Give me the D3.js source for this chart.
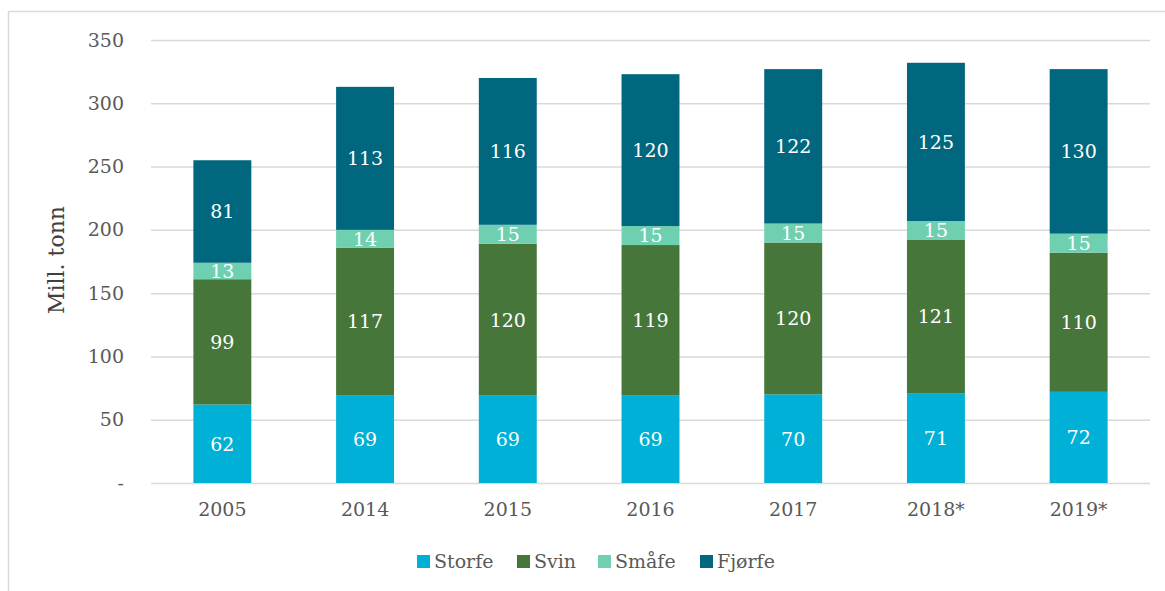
<!DOCTYPE html>
<html>
<head>
<meta charset="utf-8">
<script src="https://cdn.jsdelivr.net/npm/d3@7"></script>
<style>
  body { margin: 0; background: #fff; }
  svg { display: block; font-family: Georgia, "DejaVu Serif", serif; }
</style>
</head>
<body>
<svg id="chart" width="1165" height="591"></svg>
<script>
// data
const years   = ['2005', '2014', '2015', '2016', '2017', '2018*', '2019*'];
const storfe  = [62, 69, 69, 69, 70, 71, 72];
const svin    = [99, 117, 120, 119, 120, 121, 110];
const smafe   = [13, 14, 15, 15, 15, 15, 15];
const fjorfe  = [81, 113, 116, 120, 122, 125, 130];
const seriesNames = ['Storfe', 'Svin', 'Småfe', 'Fjørfe'];
const colors  = ['#00b0d6', '#47763a', '#6fcfb1', '#00677f'];
const yTicks  = [0, 50, 100, 150, 200, 250, 300, 350];

const svg = d3.select('#chart');
const margin = { top: 40, right: 15, bottom: 108, left: 151 };
const width = 1165 - margin.left - margin.right;
const height = 591 - margin.top - margin.bottom;

// frame
svg.append('path')
  .attr('d', 'M8.5,591 V11.5 H1165')
  .attr('fill', 'none').attr('stroke', '#d9d9d9').attr('stroke-width', 1.5);

const g = svg.append('g').attr('transform', `translate(${margin.left},${margin.top})`);

const rows = years.map((y, i) => ({ year: y, Storfe: storfe[i], Svin: svin[i], 'Småfe': smafe[i], 'Fjørfe': fjorfe[i] }));
const stack = d3.stack().keys(seriesNames)(rows);

const x = d3.scaleBand().domain(years).range([0, width]).paddingInner(0.594).paddingOuter(0.297);
const y = d3.scaleLinear().domain([0, 350]).range([height, 0]);
const color = d3.scaleOrdinal().domain(seriesNames).range(colors);

// grid
g.append('g').selectAll('line').data(yTicks).join('line')
  .attr('x1', 0).attr('x2', width)
  .attr('y1', d => y(d) + 0.5).attr('y2', d => y(d) + 0.5)
  .attr('stroke', '#d9d9d9').attr('stroke-width', 1.5);

// y axis labels
const yAxis = g.append('g')
  .call(d3.axisLeft(y).tickValues(yTicks).tickSize(0).tickPadding(27)
    .tickFormat(d => d === 0 ? '-' : d));
yAxis.select('.domain').remove();
yAxis.selectAll('text').attr('font-size', 19).attr('fill', '#595959')
  .attr('font-family', 'Georgia, "DejaVu Serif", serif');

// x axis labels
const xAxis = g.append('g').attr('transform', `translate(0,${height})`)
  .call(d3.axisBottom(x).tickSize(0).tickPadding(20));
xAxis.select('.domain').remove();
xAxis.selectAll('text').attr('font-size', 19).attr('fill', '#595959')
  .attr('font-family', 'Georgia, "DejaVu Serif", serif');

// bars
const layers = g.selectAll('.layer').data(stack).join('g')
  .attr('class', 'layer').attr('fill', d => color(d.key));

layers.selectAll('rect').data(d => d).join('rect')
  .attr('x', d => x(d.data.year))
  .attr('y', d => y(d[1]))
  .attr('width', x.bandwidth())
  .attr('height', d => y(d[0]) - y(d[1]));

layers.selectAll('text').data(d => d).join('text')
  .attr('x', d => x(d.data.year) + x.bandwidth() / 2)
  .attr('y', d => (y(d[0]) + y(d[1])) / 2)
  .attr('dy', '0.36em')
  .attr('text-anchor', 'middle')
  .attr('fill', '#fff')
  .attr('font-size', 19)
  .text(d => d[1] - d[0]);

// axis title
svg.append('text')
  .attr('transform', 'translate(64,260) rotate(-90)')
  .attr('text-anchor', 'middle')
  .attr('font-size', 22)
  .attr('fill', '#404040')
  .text('Mill. tonn');

// legend
const legendX = [417, 517, 598, 700];
const legend = svg.append('g').selectAll('g').data(seriesNames).join('g')
  .attr('transform', (d, i) => `translate(${legendX[i]},561)`);
legend.append('rect').attr('x', 0).attr('y', -6).attr('width', 13).attr('height', 13)
  .attr('fill', d => color(d));
legend.append('text').attr('x', 17).attr('y', 0).attr('dy', '0.36em')
  .attr('font-size', 19).attr('fill', '#595959')
  .text(d => d);
</script>
</body>
</html>
